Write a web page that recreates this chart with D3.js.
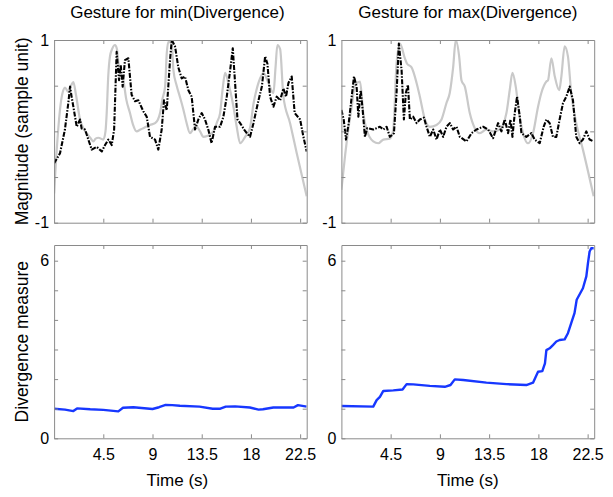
<!DOCTYPE html>
<html>
<head>
<meta charset="utf-8">
<script src="https://cdn.jsdelivr.net/npm/d3@7"></script>
<style>
  body { margin: 0; background: #fff; }
  text { font-family: "Liberation Sans", Arial, Helvetica, sans-serif; fill: #000; }
</style>
</head>
<body>
<svg id="svg1"></svg>
<script>
var width = 613, height = 497;

// series as [time (s), value]
var minGray = [[0,-0.68],[0.3,-0.1],[0.6,0.3],[0.84,0.45],[0.99,0.48],[1.3,0.43],[1.55,0.5],[1.76,0.54],[2.0,0.4],[2.37,0.13],[2.7,0.03],[2.98,-0.02],[3.3,-0.07],[3.59,-0.11],[3.8,-0.08],[4.05,-0.07],[4.5,-0.09],[4.7,0.0],[4.81,0.2],[4.95,0.6],[5.11,0.82],[5.3,0.9],[5.57,0.945],[5.75,0.9],[5.88,0.75],[6.1,0.62],[6.33,0.56],[6.6,0.35],[6.94,0.2],[7.2,0.08],[7.55,0.0],[7.9,0.02],[8.16,0.035],[8.77,0.07],[9.23,0.09],[9.5,0.13],[9.69,0.2],[9.9,0.35],[10.15,0.49],[10.3,0.85],[10.45,0.98],[10.76,0.96],[10.91,0.67],[11.21,0.5],[11.5,0.38],[11.82,0.24],[12.1,0.1],[12.43,-0.02],[12.7,0.02],[13.04,0.05],[13.35,0.0],[13.65,-0.06],[14.0,-0.05],[14.57,0.0],[14.9,0.1],[15.18,0.2],[15.4,0.45],[15.64,0.64],[15.94,0.53],[16.4,0.27],[16.7,0.05],[17.01,-0.13],[17.47,-0.06],[17.92,0.04],[18.23,0.3],[18.5,0.45],[18.69,0.53],[19.14,0.64],[19.6,0.53],[20.06,0.42],[20.25,0.7],[20.42,0.945],[20.67,0.9],[20.97,0.38],[21.58,0.09],[22.19,-0.24],[23.1,-0.71]];

var minBlack = [[0,-0.35],[0.54,-0.24],[0.99,0.02],[1.3,0.31],[1.46,0.49],[1.6,0.38],[1.76,0.27],[2.07,0.05],[2.37,0.13],[2.52,0.03],[2.83,0.02],[3.13,-0.09],[3.44,-0.2],[3.9,-0.17],[4.36,-0.22],[4.66,-0.15],[4.96,-0.09],[5.27,-0.15],[5.49,0.02],[5.72,0.87],[5.94,0.56],[6.09,0.73],[6.27,0.49],[6.48,0.78],[6.79,0.8],[7.09,0.4],[7.4,0.33],[7.7,0.34],[8.16,0.22],[8.47,0.16],[8.77,-0.06],[9.23,-0.09],[9.53,-0.2],[9.84,0.02],[10.05,0.34],[10.3,0.23],[10.6,0.78],[10.76,1.0],[11.06,0.93],[11.36,0.7],[11.67,0.58],[11.97,0.6],[12.28,0.45],[12.58,0.38],[12.89,0.02],[13.19,0.13],[13.5,0.2],[13.8,0.13],[14.1,0.02],[14.4,-0.13],[14.72,0.05],[15.18,0.05],[15.48,0.16],[15.79,0.38],[16.1,0.67],[16.34,0.91],[16.55,0.53],[16.77,0.13],[17.01,0.09],[17.38,0.02],[17.62,-0.02],[17.92,-0.06],[18.23,0.09],[18.69,0.34],[19.0,0.49],[19.3,0.82],[19.51,0.74],[19.75,0.38],[20.06,0.27],[20.36,0.38],[20.67,0.34],[20.97,0.47],[21.21,0.38],[21.43,0.53],[21.73,0.6],[22.0,0.2],[22.5,0.13],[22.8,-0.06],[23.1,-0.22]];

var maxGray = [[0,-0.64],[0.35,-0.25],[0.63,0.02],[0.94,0.27],[1.24,0.51],[1.7,0.545],[2.0,0.2],[2.3,0.02],[2.91,-0.11],[3.37,-0.13],[3.83,-0.09],[4.43,-0.08],[4.74,0.02],[5.04,0.74],[5.35,0.96],[5.8,0.8],[6.0,0.74],[6.41,0.7],[6.87,0.53],[7.17,0.38],[7.63,0.13],[8.08,0.05],[8.69,0.07],[9.15,0.13],[9.6,0.31],[9.9,0.42],[10.21,0.7],[10.45,1.0],[10.76,0.82],[10.97,0.56],[11.28,0.49],[11.73,0.2],[12.19,0.035],[12.64,-0.02],[13.25,0.02],[13.86,0.0],[14.47,0.02],[15.08,0.2],[15.38,0.45],[15.63,0.64],[15.93,0.49],[16.24,0.2],[16.6,-0.02],[17.05,-0.13],[17.51,-0.02],[17.97,0.27],[18.27,0.42],[18.73,0.545],[18.88,0.56],[19.19,0.8],[19.5,0.6],[19.9,0.45],[20.1,0.6],[20.4,0.93],[20.7,0.82],[21.0,0.42],[21.46,0.09],[22.07,-0.2],[23.05,-0.71]];

var maxBlack = [[0,0.235],[0.21,0.13],[0.42,-0.09],[0.67,0.09],[0.94,0.38],[1.15,0.6],[1.39,0.49],[1.55,0.16],[1.76,0.45],[1.94,0.24],[2.15,-0.06],[2.36,0.035],[2.91,0.02],[3.52,0.05],[3.83,0.02],[4.13,0.05],[4.43,-0.06],[4.8,-0.02],[5.04,0.42],[5.25,0.96],[5.5,0.67],[5.71,0.13],[5.89,0.42],[6.08,0.51],[6.26,0.13],[6.56,0.16],[6.87,0.09],[7.17,0.13],[7.54,0.15],[7.78,0.05],[8.08,-0.06],[8.39,0.02],[8.69,-0.09],[9.0,0.02],[9.3,-0.06],[9.6,0.05],[9.91,0.09],[10.21,0.02],[10.52,0.05],[10.82,-0.06],[11.43,-0.11],[11.89,-0.02],[12.34,0.02],[12.95,0.05],[13.41,0.02],[13.86,-0.075],[14.32,0.09],[14.62,0.0],[14.93,0.13],[15.23,-0.02],[15.45,0.13],[15.63,-0.06],[15.84,0.2],[16.05,0.38],[16.3,0.16],[16.45,-0.02],[16.9,-0.06],[17.36,-0.02],[17.66,-0.09],[18.12,-0.13],[18.48,0.05],[18.73,0.13],[19.03,0.09],[19.33,-0.06],[19.64,-0.06],[19.94,0.13],[20.25,0.31],[20.55,0.38],[20.86,0.49],[21.16,0.34],[21.46,-0.06],[21.77,-0.13],[22.07,-0.09],[22.38,0.0],[22.68,-0.09],[23.05,-0.11]];

var minDiv = [[0,1.0],[1.0,0.97],[1.76,0.92],[2.1,1.01],[3.3,0.98],[4.5,0.96],[5.87,0.91],[6.3,1.03],[7.25,1.05],[9.0,0.99],[9.6,1.05],[10.2,1.13],[10.8,1.12],[11.5,1.1],[13.3,1.07],[14.5,1.0],[15.2,1.0],[15.7,1.07],[16.55,1.08],[17.9,1.04],[18.7,0.97],[19.1,0.98],[20.05,1.04],[21.9,1.04],[22.3,1.12],[23.1,1.07]];

var maxDiv = [[0,1.09],[2.91,1.07],[3.22,1.29],[3.52,1.4],[3.83,1.6],[4.74,1.62],[5.59,1.65],[5.96,1.83],[6.56,1.82],[8.08,1.77],[9.45,1.74],[9.97,1.8],[10.36,1.99],[11.13,1.97],[13.25,1.88],[15.08,1.83],[16.9,1.8],[17.51,1.88],[17.76,2.08],[17.97,2.25],[18.36,2.27],[18.6,2.53],[18.73,2.98],[19.03,3.04],[19.33,3.15],[19.64,3.27],[19.94,3.32],[20.4,3.34],[20.7,3.55],[21.0,3.89],[21.3,4.23],[21.5,4.68],[22.07,5.07],[22.38,5.47],[22.53,5.92],[22.68,6.31],[22.83,6.42],[23.05,6.42]];

var xTicks = [4.5, 9, 13.5, 18, 22.5];
var topYTicks = [-1, -0.5, 0, 0.5, 1];
var topYLabels = [-1, 1];
var botYTicks = [0, 1, 2, 3, 4, 5, 6];
var botYLabels = [0, 6];
var titles = ["Gesture for min(Divergence)", "Gesture for max(Divergence)"];

var svg = d3.select('#svg1').attr('width', width).attr('height', height);

var cols = [[54.1, 306.7], [341.4, 594.2]];
var rows = [[40, 222.7], [245, 438.3]];

function drawPanel(ci, ri, yDomain, yTicks, yLabels, series, showX) {
    var xs = d3.scaleLinear().domain([0, 23.1]).range(cols[ci]);
    var ys = d3.scaleLinear().domain(yDomain).range([rows[ri][1], rows[ri][0]]);
    var g = svg.append('g');
    var id = 'clip' + ci + ri;
    g.append('clipPath').attr('id', id).append('rect')
        .attr('x', cols[ci][0]).attr('y', rows[ri][0])
        .attr('width', cols[ci][1] - cols[ci][0]).attr('height', rows[ri][1] - rows[ri][0]);

    series.forEach(function(s) {
        var line = d3.line().x(function(d){ return xs(d[0]); }).y(function(d){ return ys(d[1]); })
            .curve(s.curve || d3.curveLinear);
        g.append('path').datum(s.data)
            .attr('clip-path', 'url(#' + id + ')')
            .attr('d', line)
            .attr('fill', 'none')
            .attr('stroke', s.color)
            .attr('stroke-width', s.width)
            .attr('stroke-linejoin', 'round')
            .attr('stroke-dasharray', s.dash || null);
    });

    // box with inside ticks on all sides
    var axCol = '#8a8a8a';
    g.append('g').attr('transform', 'translate(0,' + rows[ri][1] + ')')
        .call(d3.axisBottom(xs).tickValues(xTicks).tickSizeInner(-4).tickSizeOuter(0)
              .tickFormat(showX ? d3.format('') : ''))
        .call(function(a){
            a.select('.domain').attr('stroke', axCol);
            a.selectAll('.tick line').attr('stroke', axCol);
            a.selectAll('.tick text').attr('dy', 0).attr('y', 22).style('font-size', '16px')
             .style('font-family', '"Liberation Sans", Arial, sans-serif');
        });
    g.append('g').attr('transform', 'translate(0,' + rows[ri][0] + ')')
        .call(d3.axisTop(xs).tickValues(xTicks).tickSizeInner(-4).tickSizeOuter(0).tickFormat(''))
        .call(function(a){
            a.select('.domain').attr('stroke', axCol);
            a.selectAll('.tick line').attr('stroke', axCol);
        });
    g.append('g').attr('transform', 'translate(' + cols[ci][0] + ',0)')
        .call(d3.axisLeft(ys).tickValues(yTicks).tickSizeInner(-4).tickSizeOuter(0)
              .tickFormat(function(d){ return yLabels.indexOf(d) >= 0 ? d3.format('')(d).replace('\u2212', '-') : ''; }))
        .call(function(a){
            a.select('.domain').attr('stroke', axCol);
            a.selectAll('.tick line').attr('stroke', axCol);
            a.selectAll('.tick text').attr('x', -5).style('font-size', '16px')
             .style('font-family', '"Liberation Sans", Arial, sans-serif');
        });
    g.append('g').attr('transform', 'translate(' + cols[ci][1] + ',0)')
        .call(d3.axisRight(ys).tickValues(yTicks).tickSizeInner(-4).tickSizeOuter(0).tickFormat(''))
        .call(function(a){
            a.select('.domain').attr('stroke', axCol);
            a.selectAll('.tick line').attr('stroke', axCol);
        });
    g.selectAll('.tick text').attr('fill', '#000');
}

var grayStyle = { color: '#c9c9c9', width: 2.2, curve: d3.curveMonotoneX };
var blackStyle = { color: '#000', width: 2.1, dash: '5,1.5,1.5,1.5' };
var blueStyle = { color: '#1737ff', width: 2.4 };

drawPanel(0, 0, [-1, 1], topYTicks, topYLabels,
    [Object.assign({ data: minGray }, grayStyle), Object.assign({ data: minBlack }, blackStyle)], false);
drawPanel(1, 0, [-1, 1], topYTicks, topYLabels,
    [Object.assign({ data: maxGray }, grayStyle), Object.assign({ data: maxBlack }, blackStyle)], false);
drawPanel(0, 1, [0, 6.53], botYTicks, botYLabels, [Object.assign({ data: minDiv }, blueStyle)], true);
drawPanel(1, 1, [0, 6.53], botYTicks, botYLabels, [Object.assign({ data: maxDiv }, blueStyle)], true);

// titles and labels
titles.forEach(function(t, i) {
    svg.append('text').attr('x', (cols[i][0] + cols[i][1]) / 2 - (i == 0 ? 3 : 0)).attr('y', 18)
        .attr('text-anchor', 'middle').style('font-size', '17px').text(t);
    svg.append('text').attr('x', (cols[i][0] + cols[i][1]) / 2 - (i == 0 ? 3 : 0)).attr('y', 486)
        .attr('text-anchor', 'middle').style('font-size', '17px').text('Time (s)');
});
svg.append('text').attr('transform', 'translate(28,' + (rows[0][0] + rows[0][1]) / 2 + ') rotate(-90)')
    .attr('text-anchor', 'middle').style('font-size', '17.5px').text('Magnitude (sample unit)');
svg.append('text').attr('transform', 'translate(28,' + (rows[1][0] + rows[1][1]) / 2 + ') rotate(-90)')
    .attr('text-anchor', 'middle').style('font-size', '17.5px').text('Divergence measure');
</script>
</body>
</html>
